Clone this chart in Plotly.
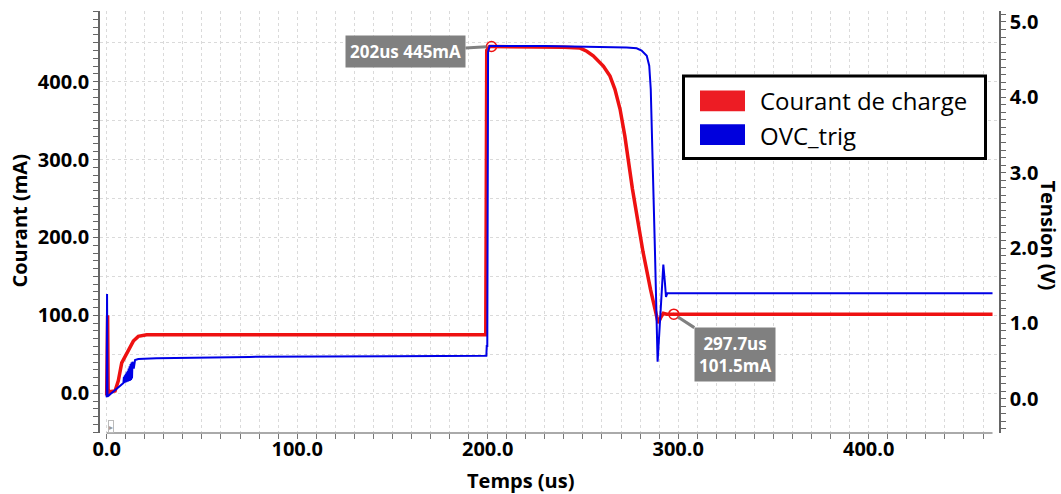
import plotly.graph_objects as go

# ---------------- data ----------------
t_courant = [0, 0.5, 0.8, 1.7, 4.4, 6.1, 7.9, 10.5, 14.0, 16.6, 21, 100, 199.0, 199.5, 201, 202,
             225, 240, 248.5, 252, 255.4, 260.7, 264.2, 266.8, 269.5, 272, 276, 281.5, 285.5,
             289.5, 290.8, 292.2, 294, 297.7, 465]
courant_mA = [-3, 100, -3, 2, 3, 16, 39, 52, 67, 73, 75, 75, 75, 440, 445, 445,
              445, 444, 443, 439, 433, 420, 407, 390, 364.5, 330, 262, 182, 133,
              90, 97, 102.7, 101.5, 101.5, 101.5]

t_ovc = [0, 0.2, 0.45, 3.5, 7.0, 8.7,
         8.8, 9.05, 9.3, 9.55, 9.8, 10.05, 10.3, 10.55, 10.8, 11.05,
         11.3, 11.55, 11.8, 12.05, 12.3, 12.55, 12.8, 13.05, 13.3, 13.55,
         14.2, 14.9, 16.6, 26.2, 75, 150, 199.3, 199.5, 199.8, 200.2, 201,
         230, 265, 273, 278.2, 280.8, 283.5, 284.8, 285.6, 286.2, 287.8, 289.2,
         290.4, 291.3, 292.2, 293.0, 293.6, 294.3, 465]
ovc_V = [0.02, 1.39, 0.03, 0.096, 0.16, 0.205,
         0.21, 0.29, 0.21, 0.31, 0.215, 0.33, 0.22, 0.35, 0.225, 0.37,
         0.23, 0.40, 0.235, 0.43, 0.24, 0.46, 0.25, 0.48, 0.27, 0.49,
         0.40, 0.514, 0.527, 0.536, 0.555, 0.565, 0.57, 0.70, 0.70, 4.60, 4.68,
         4.68, 4.67, 4.66, 4.65, 4.62, 4.55, 4.42, 4.11, 3.41, 1.96, 0.49,
         1.08, 1.50, 1.78, 1.55, 1.35, 1.40, 1.40]

marker_t = [202, 297.7]
marker_mA = [445, 101.5]
marker_labels = ["202us 445mA", "297.7us<br>101.5mA"]

x_ticks = [0, 100, 200, 300, 400]
x_ticktext = ["0.0", "100.0", "200.0", "300.0", "400.0"]
y_ticks = [0, 50, 100, 150, 200, 250, 300, 350, 400, 450]
y_ticktext = ["0.0", "", "100.0", "", "200.0", "", "300.0", "", "400.0", ""]
y2_ticks = [0, 1, 2, 3, 4, 5]
y2_ticktext = ["0.0", "1.0", "2.0", "3.0", "4.0", "5.0"]

RED = "#ee1111"
BLUE = "#0000e6"
FONT = "Open Sans"

# plot area in pixels
L, R, T, B = 100, 999, 8, 433
W, H = 1061, 494


def px(xp):
    return (xp - L) / (R - L)


def py(yp):
    return (B - yp) / (B - T)


fig = go.Figure()
fig.add_trace(go.Scatter(x=t_courant, y=courant_mA, mode="lines", name="Courant de charge",
                         line=dict(color=RED, width=3.5), yaxis="y"))
fig.add_trace(go.Scatter(x=t_ovc, y=ovc_V, mode="lines", name="OVC_trig",
                         line=dict(color=BLUE, width=2), yaxis="y2"))
fig.add_trace(go.Scatter(x=marker_t, y=marker_mA, mode="markers", showlegend=False,
                         marker=dict(symbol="circle-open-dot", size=10, color=RED,
                                     line=dict(width=1.5, color=RED)), yaxis="y"))

tickfont = dict(family=FONT, size=20, color="black", weight="bold")
grid = "#dadada"

fig.update_layout(
    width=W, height=H,
    margin=dict(l=L, r=W - R, t=T, b=H - B),
    paper_bgcolor="white", plot_bgcolor="white",
    showlegend=False,
    xaxis=dict(range=[-3.5, 468.4], tickvals=x_ticks, ticktext=x_ticktext,
               tickfont=tickfont, ticks="outside", ticklen=5, tickcolor="#777",
               ticklabelstandoff=-7,
               showgrid=True, gridcolor=grid, griddash="dot", gridwidth=1,
               zeroline=False, showline=False,
               minor=dict(dtick=10, tick0=0, ticks="outside", ticklen=5, tickcolor="#777",
                          showgrid=True, gridcolor=grid, griddash="dot", gridwidth=1)),
    yaxis=dict(range=[-51, 490.6], tickvals=y_ticks, ticktext=y_ticktext,
               tickfont=tickfont, ticks="outside", ticklen=5, tickcolor="#666",
               showgrid=True, gridcolor=grid, griddash="dot", gridwidth=1,
               zeroline=False, showline=True, linecolor="#666", linewidth=1.5,
               minor=dict(dtick=10, tick0=0, ticks="outside", ticklen=5, tickcolor="#666",
                          showgrid=False)),
    yaxis2=dict(range=[-0.455, 5.145], tickvals=y2_ticks, ticktext=y2_ticktext,
                overlaying="y", side="right",
                tickfont=tickfont, ticks="outside", ticklen=5, tickcolor="#666",
                showgrid=False, zeroline=False, showline=True, linecolor="#666", linewidth=1.5,
                minor=dict(dtick=0.1, tick0=0, ticks="outside", ticklen=5, tickcolor="#666")),
)

shapes = []
# x axis baseline from 0 to end of data
shapes.append(dict(type="line", xref="x", yref="paper", x0=0, x1=465, y0=0, y1=0,
                   line=dict(color="#aaaaaa", width=2)))
# legend box
shapes.append(dict(type="rect", xref="paper", yref="paper", x0=px(683.5), x1=px(985.5),
                   y0=py(156.5), y1=py(73.5), line=dict(color="black", width=3),
                   fillcolor="white", layer="above"))
shapes.append(dict(type="rect", xref="paper", yref="paper", x0=px(700), x1=px(745),
                   y0=py(109), y1=py(88), line=dict(width=0), fillcolor="#ed1c24", layer="above"))
shapes.append(dict(type="rect", xref="paper", yref="paper", x0=px(700), x1=px(745),
                   y0=py(143), y1=py(122), line=dict(width=0), fillcolor="#0000dd", layer="above"))
fig.update_layout(shapes=shapes)

ann = []
ann.append(dict(xref="paper", yref="paper", x=px(758), y=py(98), text="Courant de charge",
                showarrow=False, xanchor="left", yanchor="middle",
                font=dict(family=FONT, size=24, color="black")))
ann.append(dict(xref="paper", yref="paper", x=px(758), y=py(133), text="OVC_trig",
                showarrow=False, xanchor="left", yanchor="middle",
                font=dict(family=FONT, size=24, color="black")))
# axis titles
ann.append(dict(xref="paper", yref="paper", x=px(520), y=py(481), text="Temps (us)",
                showarrow=False, xanchor="center", yanchor="middle",
                font=dict(family=FONT, size=20, color="black", weight="bold")))
ann.append(dict(xref="paper", yref="paper", x=px(20), y=py(220), text="Courant (mA)",
                showarrow=False, xanchor="center", yanchor="middle", textangle=-90,
                font=dict(family=FONT, size=20, color="black", weight="bold")))
ann.append(dict(xref="paper", yref="paper", x=px(1049), y=py(234), text="Tension (V)",
                showarrow=False, xanchor="center", yanchor="middle", textangle=90,
                font=dict(family=FONT, size=20, color="black", weight="bold")))
# data labels
offsets = [(-86, 5), (61, 40)]
for xt, ym, lab, (ax, ay) in zip(marker_t, marker_mA, marker_labels, offsets):
    ann.append(dict(x=xt, y=ym, xref="x", yref="y", text=lab, showarrow=True,
                    ax=ax, ay=ay, arrowhead=0, arrowwidth=3, arrowcolor="#808080",
                    standoff=5, bgcolor="#808080", borderpad=4, align="center",
                    font=dict(family=FONT, size=17, color="white", weight="bold")))
# small play icon
ann.append(dict(xref="paper", yref="paper", x=px(111), y=py(426.5), text="▸",
                showarrow=False, xanchor="center", yanchor="middle",
                font=dict(size=8, color="#999"), bordercolor="#bbb", borderwidth=1,
                borderpad=0, bgcolor="white"))
fig.update_layout(annotations=ann)

fig.write_html("out.html")
